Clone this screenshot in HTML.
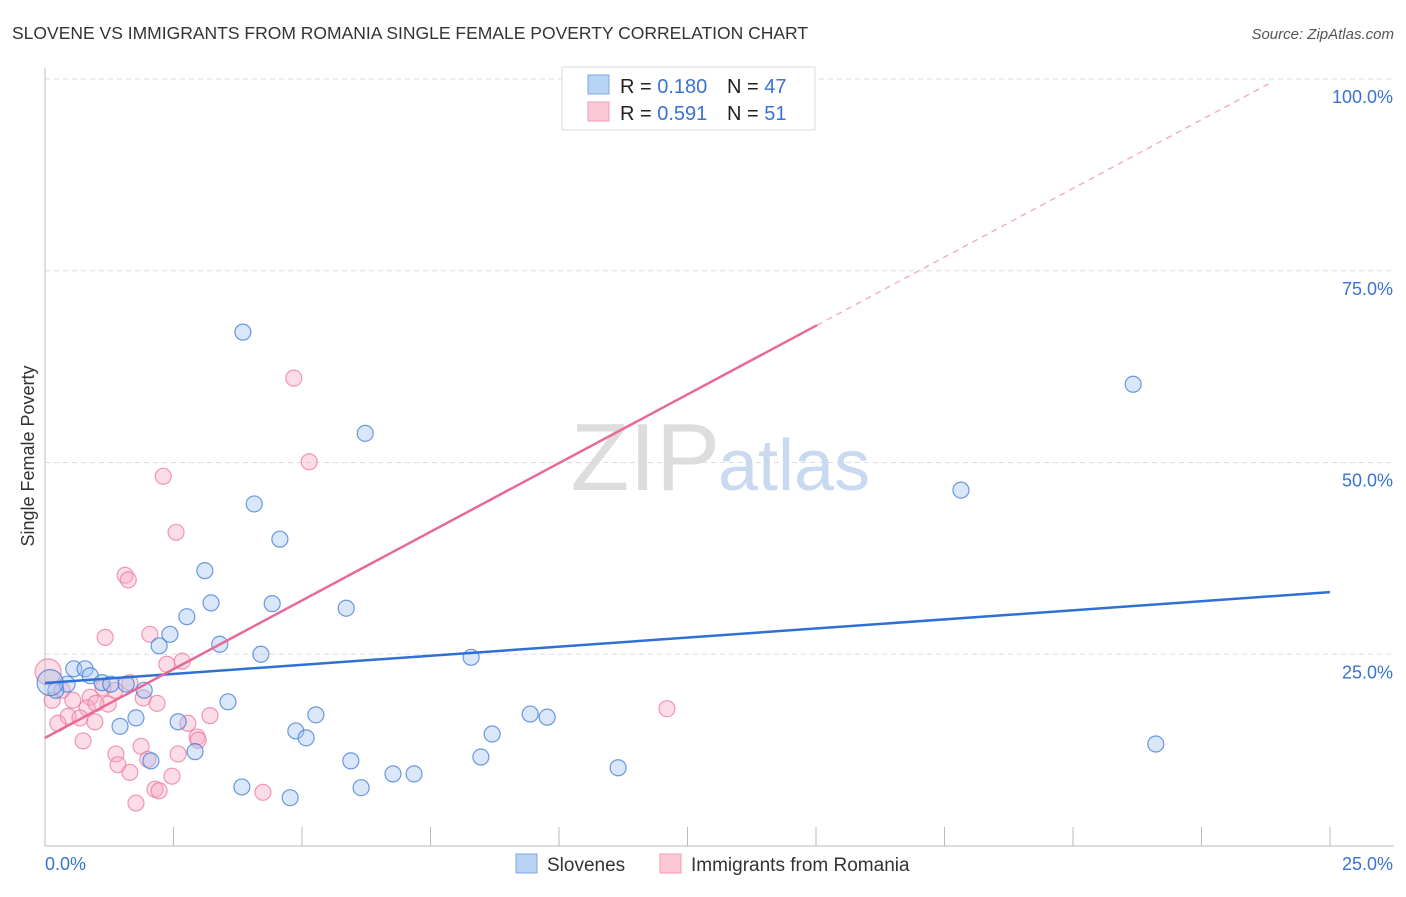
<!DOCTYPE html>
<html><head><meta charset="utf-8"><style>
body{margin:0;background:#fff;font-family:"Liberation Sans",sans-serif}
svg text{font-family:"Liberation Sans",sans-serif}
</style></head><body>
<svg id="chart" width="1406" height="892" viewBox="0 0 1406 892" xmlns="http://www.w3.org/2000/svg">
<text x="12" y="39" font-size="17.5" fill="#333">SLOVENE VS IMMIGRANTS FROM ROMANIA SINGLE FEMALE POVERTY CORRELATION CHART</text>
<text x="1394" y="39" font-size="15" fill="#555" text-anchor="end" font-style="italic">Source: ZipAtlas.com</text>
<g id="grid"></g>
<text x="720" y="490" font-size="96" fill="#ddd" text-anchor="end" font-family="Liberation Serif">ZIP</text>
<text x="718" y="490" font-size="72" fill="#c9d9f0">atlas</text>
<g id="axes"></g>
<text transform="translate(34,456) rotate(-90)" font-size="18" fill="#333" text-anchor="middle">Single Female Poverty</text>
<g id="pts"></g>
<g id="lines"></g>
<g>
<rect x="562" y="67" width="253" height="63" fill="#fff" stroke="#ddd"/>
<rect x="588" y="75" width="21" height="19" fill="#b9d3f5" stroke="#7aa7e6"/>
<rect x="588" y="102" width="21" height="19" fill="#fcc8d6" stroke="#f29bb4"/>
<text x="620" y="93" font-size="20" fill="#222">R = <tspan fill="#3a72d0">0.180</tspan></text>
<text x="727" y="93" font-size="20" fill="#222">N = <tspan fill="#3a72d0">47</tspan></text>
<text x="620" y="120" font-size="20" fill="#222">R =  <tspan fill="#3a72d0">0.591</tspan></text>
<text x="727" y="120" font-size="20" fill="#222">N =  <tspan fill="#3a72d0">51</tspan></text>
</g>
<g>
<rect x="516" y="854" width="21" height="19" fill="#b9d3f5" stroke="#7aa7e6"/>
<text x="547" y="871" font-size="19" fill="#333">Slovenes</text>
<rect x="660" y="854" width="21" height="19" fill="#fcc8d6" stroke="#f29bb4"/>
<text x="691" y="871" font-size="19" fill="#333">Immigrants from Romania</text>
</g>
</svg>
<script>
const xTicks=[0,2.5,5,7.5,10,12.5,15,17.5,20,22.5,25];
const yGrid=[25,50,75,100];
const yTickLabels=["25.0%","50.0%","75.0%","100.0%"];
const xTickLabels=["0.0%","25.0%"];
const sloveneX=[3.85,6.23,21.17,17.82,4.07,4.57,3.11,3.23,4.42,5.86,2.76,2.43,3.40,2.22,4.20,8.29,0.56,0.78,0.88,0.43,1.11,1.28,1.58,1.93,0.21,1.77,1.46,2.59,3.56,5.27,4.88,5.08,9.44,9.77,8.70,2.92,2.06,8.48,5.95,11.15,6.77,7.18,3.83,6.15,4.77,21.61,0.1];
const sloveneY=[67.0,53.8,60.2,46.4,44.6,40.0,35.9,31.7,31.6,31.0,29.9,27.6,26.3,26.1,25.0,24.6,23.1,23.1,22.2,21.1,21.3,21.1,21.1,20.3,20.3,16.7,15.6,16.2,18.8,17.1,15.0,14.1,17.2,16.8,14.6,12.3,11.1,11.6,11.1,10.2,9.4,9.4,7.7,7.6,6.3,13.3,21.3];
const romaniaX=[4.84,5.14,2.30,2.55,1.56,1.62,1.17,2.04,2.67,2.37,1.65,1.13,0.06,0.33,0.54,0.88,1.36,0.82,0.45,0.25,0.68,0.97,1.23,1.91,2.18,0.99,0.74,1.38,1.42,1.87,2.00,1.65,2.47,2.14,2.22,1.77,2.59,2.78,2.96,2.98,3.21,4.24,12.10,14.53,0.14];
const romaniaY=[61.0,50.1,48.2,40.9,35.3,34.7,27.2,27.6,24.1,23.7,21.3,20.6,22.7,20.3,19.0,19.4,20.3,18.0,16.9,16.0,16.7,16.2,18.5,19.3,18.6,18.6,13.7,12.0,10.6,13.0,11.3,9.6,9.1,7.4,7.2,5.6,12.0,16.0,14.2,13.8,17.0,7.0,17.9,99.9,19.0];
const sloveneTrend=[21.25,33.1]; // y at x=0 and x=25
const romaniaTrend=[14.1,67.9,15.02,23.83]; // y0, y at solid end, solid end x, dashed end x
const X=v=>45+v/25*1285;
const Y=v=>846-v*7.67;
const NS="http://www.w3.org/2000/svg";
function mk(tag,attrs,parent){const e=document.createElementNS(NS,tag);for(const k in attrs)e.setAttribute(k,attrs[k]);parent.appendChild(e);return e;}
const grid=document.getElementById('grid'),axes=document.getElementById('axes'),pts=document.getElementById('pts'),lines=document.getElementById('lines');
yGrid.forEach((v,i)=>{
 const l=mk('line',{x1:45,x2:1394,y1:Y(v),y2:Y(v),stroke:'#ddd','stroke-dasharray':'5,4'},grid);
 
 
 const t=mk('text',{x:1393,y:Y(v)+24,'font-size':18,fill:'#3a72d0','text-anchor':'end'},axes);
 t.textContent=yTickLabels[i];
 
 
});
const xa=mk('line',{x1:45,x2:1394,y1:846,y2:846,stroke:'#bbb'},axes);


const ya=mk('line',{x1:45,x2:45,y1:68,y2:846,stroke:'#bbb'},axes);


xTicks.forEach(v=>{
 if(v===0)return;
 const t=mk('line',{x1:X(v),x2:X(v),y1:827,y2:846,stroke:'#bbb'},axes);
 
 
});
const xl0=mk('text',{x:45,y:870,'font-size':18,fill:'#3a72d0'},axes);
xl0.textContent=xTickLabels[0];


const xl1=mk('text',{x:1393,y:870,'font-size':18,fill:'#3a72d0','text-anchor':'end'},axes);
xl1.textContent=xTickLabels[1];


romaniaX.forEach((v,i)=>{
 const c=mk('circle',{cx:X(v),cy:Y(romaniaY[i]),r:(i===12?13:8),fill:'rgba(248,170,195,0.4)',stroke:'rgba(236,120,155,0.75)','stroke-width':1.2},pts);
 
 
});
sloveneX.forEach((v,i)=>{
 const c=mk('circle',{cx:X(v),cy:Y(sloveneY[i]),r:(i===46?13:8),fill:'rgba(160,195,240,0.4)',stroke:'rgba(60,120,215,0.75)','stroke-width':1.2},pts);
 
 
});
const bl=mk('line',{x1:X(0),y1:Y(sloveneTrend[0]),x2:X(25),y2:Y(sloveneTrend[1]),stroke:'#2f6fd6','stroke-width':2.5},lines);


const slope=(romaniaTrend[1]-romaniaTrend[0])/romaniaTrend[2];
const pl=mk('line',{x1:X(0),y1:Y(romaniaTrend[0]),x2:X(romaniaTrend[2]),y2:Y(romaniaTrend[1]),stroke:'#e8689a','stroke-width':2.5},lines);


const pd=mk('line',{x1:X(romaniaTrend[2]),y1:Y(romaniaTrend[1]),x2:X(romaniaTrend[3]),y2:Y(romaniaTrend[0]+slope*romaniaTrend[3]),stroke:'#f0a0bb','stroke-width':1.2,'stroke-dasharray':'6,5'},lines);


</script>
</body></html>
